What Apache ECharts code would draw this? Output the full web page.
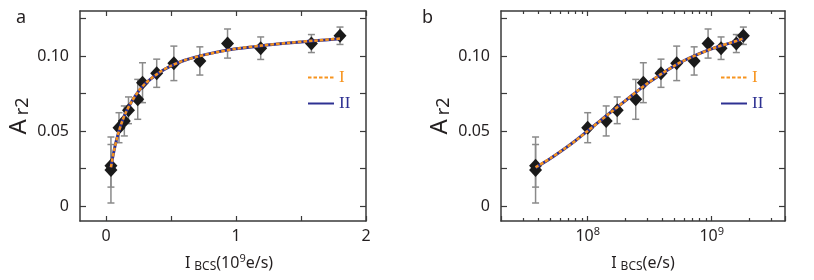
<!DOCTYPE html>
<html><head><meta charset="utf-8">
<script src="https://cdn.jsdelivr.net/npm/echarts@6/dist/echarts.min.js"></script>
<style>html,body{margin:0;padding:0;background:#fff}#c{width:814px;height:280px}</style>
</head><body><div id="c"></div>
<script>
// ---- data ----
const currentES = [3.8e7, 3.8e7, 1.0e8, 1.41e8, 1.73e8, 2.44e8, 2.81e8, 3.9e8, 5.22e8, 7.22e8, 9.35e8, 1.19e9, 1.58e9, 1.80e9];
const asym      = [0.024, 0.0268, 0.0522, 0.0567, 0.0638, 0.0711, 0.0822, 0.0885, 0.0951, 0.0967, 0.1083, 0.1052, 0.1083, 0.1135];
const asymErr   = [0.022, 0.0142, 0.0100, 0.0100, 0.0089, 0.0133, 0.0133, 0.0094, 0.0115, 0.0094, 0.0097, 0.0075, 0.0060, 0.0058];
const fitX   = [3.8e7, 5e7, 6.5e7, 8e7, 1e8, 1.25e8, 1.5e8, 2e8, 2.5e8, 3e8, 4e8, 5e8, 6e8, 7e8, 8.5e8, 1e9, 1.2e9, 1.4e9, 1.6e9, 1.8e9];
const fitI   = [0.0258, 0.0318, 0.0382, 0.0436, 0.0500, 0.0565, 0.0618, 0.0700, 0.0765, 0.0815, 0.0885, 0.0935, 0.0970, 0.0995, 0.1025, 0.1048, 0.1070, 0.1087, 0.1102, 0.1116];
const fitII  = [0.0256, 0.0317, 0.0382, 0.0437, 0.0501, 0.0566, 0.0619, 0.0700, 0.0764, 0.0814, 0.0884, 0.0934, 0.0970, 0.0996, 0.1026, 0.1048, 0.1069, 0.1086, 0.1101, 0.1115];
const xTicksA  = [0, 0.5, 1, 1.5, 2];
const xLabelsA = [0, 1, 2];
const yTicks   = [0, 0.025, 0.05, 0.075, 0.1, 0.125];
const yLabels  = [0, 0.05, 0.1];
const xMajorB  = [1e8, 1e9];
const xMinorB  = [3e7, 4e7, 5e7, 6e7, 7e7, 8e7, 9e7, 2e8, 3e8, 4e8, 5e8, 6e8, 7e8, 8e8, 9e8, 2e9, 3e9];

// ---- styling ----
const FONT = 'Noto Sans';
const INK = '#231f20';
const AX = '#3a3a3a';
const ORANGE = '#F7941E';
const BLUE = '#2E3192';
const ERR = '#8a8a8a';
const SCALE_A = 1e9;
const xMinB = 2e7, xMaxB = 3.9e9;

const chart = echarts.init(document.getElementById('c'), null, {renderer: 'canvas'});

const lineAx = {show: true, onZero: false, lineStyle: {color: AX, width: 1.5}};
const noLine = {show: false, onZero: false};
const tickSt = {color: AX, width: 1.2};

function yAxisDef(gridIndex, pos, withLabels) {
  return {
    type: 'value', gridIndex, position: pos, min: -0.01, max: 0.13,
    axisLine: lineAx, splitLine: {show: false},
    axisTick: {show: true, inside: true, length: 6, customValues: yTicks, lineStyle: tickSt},
    axisLabel: withLabels ? {
      show: true, customValues: yLabels, margin: 11, fontSize: 16, fontFamily: FONT, color: INK,
      formatter: v => v === 0 ? '0' : v.toFixed(2)
    } : {show: false},
    name: withLabels ? '{a|A}{s|r2}' : '',
    nameLocation: 'middle', nameGap: 48, nameRotate: 90,
    nameTextStyle: {
      rich: {
        a: {fontSize: 24, fontFamily: FONT, color: INK, lineHeight: 26},
        s: {fontSize: 18, fontFamily: FONT, color: INK, lineHeight: 18, verticalAlign: 'bottom', padding: [0, 0, 0, 4]}
      }
    }
  };
}

function nameRich() {
  return {
    m: {fontSize: 16, fontFamily: FONT, color: INK, lineHeight: 20},
    sb: {fontSize: 12, fontFamily: FONT, color: INK, lineHeight: 12, verticalAlign: 'bottom', padding: [0, 0, 0, 4]},
    sp: {fontSize: 11, fontFamily: FONT, color: INK, lineHeight: 11, verticalAlign: 'top'}
  };
}

function pow10Label(v) {
  const e = Math.round(Math.log10(v));
  if (Math.abs(v - Math.pow(10, e)) / v < 1e-6) return '{b|10}{s|' + e + '}';
  return '';
}

function errRender(params, api) {
  const x = api.value(0), y = api.value(1), e = api.value(2);
  const top = api.coord([x, y + e]);
  const bot = api.coord([x, y - e]);
  const hw = 3.5;
  const st = {stroke: ERR, lineWidth: 1.5};
  return {type: 'group', children: [
    {type: 'line', shape: {x1: top[0], y1: top[1], x2: bot[0], y2: bot[1]}, style: st},
    {type: 'line', shape: {x1: top[0] - hw, y1: top[1], x2: top[0] + hw, y2: top[1]}, style: st},
    {type: 'line', shape: {x1: bot[0] - hw, y1: bot[1], x2: bot[0] + hw, y2: bot[1]}, style: st}
  ]};
}

const ptsA = currentES.map((x, i) => [x / SCALE_A, asym[i]]);
const ptsB = currentES.map((x, i) => [x, asym[i]]);
const errA = currentES.map((x, i) => [x / SCALE_A, asym[i], asymErr[i]]);
const errB = currentES.map((x, i) => [x, asym[i], asymErr[i]]);
const fitIA = fitX.map((x, i) => [x / SCALE_A, fitI[i]]);
const fitIIA = fitX.map((x, i) => [x / SCALE_A, fitII[i]]);
const fitIB = fitX.map((x, i) => [x, fitI[i]]);
const fitIIB = fitX.map((x, i) => [x, fitII[i]]);

const legendBase = {
  orient: 'vertical', top: 64, itemWidth: 26, itemHeight: 14, itemGap: 9,
  selectedMode: false,
  itemStyle: {opacity: 0, borderWidth: 0},
  textStyle: {fontFamily: 'Liberation Serif', fontSize: 17},
  data: [
    {name: 'I', textStyle: {color: ORANGE}},
    {name: 'II', textStyle: {color: BLUE}}
  ]
};

const option = {
  animation: false,
  backgroundColor: '#fff',
  title: [
    {text: 'a', left: 11, top: 4, textStyle: {fontSize: 18, fontWeight: 'normal', fontFamily: FONT, color: INK}},
    {text: 'b', left: 417, top: 4, textStyle: {fontSize: 18, fontWeight: 'normal', fontFamily: FONT, color: INK}}
  ],
  legend: [
    Object.assign({}, legendBase, {left: 302}),
    Object.assign({}, legendBase, {left: 715})
  ],
  grid: [
    {left: 80, top: 11, width: 286, height: 210, containLabel: false},
    {left: 501, top: 11, width: 284, height: 210, containLabel: false}
  ],
  xAxis: [
    { // 0: panel a bottom
      type: 'value', gridIndex: 0, position: 'bottom', min: -0.2, max: 2,
      axisLine: lineAx, splitLine: {show: false},
      axisTick: {show: true, inside: true, length: 5, customValues: xTicksA, lineStyle: tickSt},
      axisLabel: {customValues: xLabelsA, margin: 7, fontSize: 16, fontFamily: FONT, color: INK, formatter: v => String(v)},
      name: '{m|I}{sb|BCS}{m|(10}{sp|9}{m|e/s)}', nameLocation: 'middle', nameGap: 32,
      nameTextStyle: {rich: nameRich(), padding: [0, 0, 0, 12]}
    },
    { // 1: panel a top
      type: 'value', gridIndex: 0, position: 'top', min: -0.2, max: 2,
      axisLine: lineAx, splitLine: {show: false},
      axisTick: {show: true, inside: true, length: 5, customValues: xTicksA, lineStyle: tickSt},
      axisLabel: {show: false}
    },
    { // 2: panel b bottom (data, log)
      type: 'log', logBase: 10, gridIndex: 1, position: 'bottom', min: xMinB, max: xMaxB,
      axisLine: lineAx, splitLine: {show: false}, minorTick: {show: false},
      axisTick: {show: true, inside: true, length: 5, lineStyle: tickSt},
      axisLabel: {
        margin: 5, formatter: pow10Label,
        rich: {
          b: {fontSize: 16, fontFamily: FONT, color: INK, lineHeight: 20},
          s: {fontSize: 11, fontFamily: FONT, color: INK, lineHeight: 11, verticalAlign: 'top'}
        }
      },
      name: '{m|I}{sb|BCS}{m|(e/s)}', nameLocation: 'middle', nameGap: 32,
      nameTextStyle: {rich: nameRich()}
    },
    { // 3: panel b bottom minor ticks (log10 space)
      type: 'value', gridIndex: 1, position: 'bottom', min: Math.log10(xMinB), max: Math.log10(xMaxB),
      axisLine: noLine, splitLine: {show: false},
      axisTick: {show: true, inside: true, length: 3, customValues: xMinorB.map(Math.log10), lineStyle: tickSt},
      axisLabel: {show: false}
    },
    { // 4: panel b top major ticks
      type: 'value', gridIndex: 1, position: 'top', min: Math.log10(xMinB), max: Math.log10(xMaxB),
      axisLine: lineAx, splitLine: {show: false},
      axisTick: {show: true, inside: true, length: 5, customValues: xMajorB.map(Math.log10), lineStyle: tickSt},
      axisLabel: {show: false}
    },
    { // 5: panel b top minor ticks
      type: 'value', gridIndex: 1, position: 'top', min: Math.log10(xMinB), max: Math.log10(xMaxB),
      axisLine: noLine, splitLine: {show: false},
      axisTick: {show: true, inside: true, length: 3, customValues: xMinorB.map(Math.log10), lineStyle: tickSt},
      axisLabel: {show: false}
    }
  ],
  yAxis: [
    yAxisDef(0, 'left', true),
    yAxisDef(0, 'right', false),
    yAxisDef(1, 'left', true),
    yAxisDef(1, 'right', false)
  ],
  series: [
    {type: 'custom', name: 'errA', xAxisIndex: 0, yAxisIndex: 0, renderItem: errRender, data: errA, z: 2, encode: {x: 0, y: 1}},
    {type: 'scatter', name: 'ptsA', xAxisIndex: 0, yAxisIndex: 0, data: ptsA, symbol: 'diamond', symbolSize: [13, 14], itemStyle: {color: '#1a1a1a', opacity: 1}, z: 3},
    {type: 'line', name: 'II', xAxisIndex: 0, yAxisIndex: 0, data: fitIIA, symbol: 'none', smooth: 0.3, lineStyle: {color: BLUE, width: 3}, itemStyle: {color: BLUE}, z: 4},
    {type: 'line', name: 'I', xAxisIndex: 0, yAxisIndex: 0, data: fitIA, symbol: 'none', smooth: 0.3, lineStyle: {color: ORANGE, width: 2.5, type: [3.5, 2]}, itemStyle: {color: ORANGE}, z: 5},
    {type: 'custom', name: 'errB', xAxisIndex: 2, yAxisIndex: 2, renderItem: errRender, data: errB, z: 2, encode: {x: 0, y: 1}},
    {type: 'scatter', name: 'ptsB', xAxisIndex: 2, yAxisIndex: 2, data: ptsB, symbol: 'diamond', symbolSize: [13, 14], itemStyle: {color: '#1a1a1a', opacity: 1}, z: 3},
    {type: 'line', name: 'II', xAxisIndex: 2, yAxisIndex: 2, data: fitIIB, symbol: 'none', smooth: 0.3, lineStyle: {color: BLUE, width: 3}, itemStyle: {color: BLUE}, z: 4},
    {type: 'line', name: 'I', xAxisIndex: 2, yAxisIndex: 2, data: fitIB, symbol: 'none', smooth: 0.3, lineStyle: {color: ORANGE, width: 2.5, type: [3.5, 2]}, itemStyle: {color: ORANGE}, z: 5}
  ]
};
chart.setOption(option);
</script>
</body></html>
